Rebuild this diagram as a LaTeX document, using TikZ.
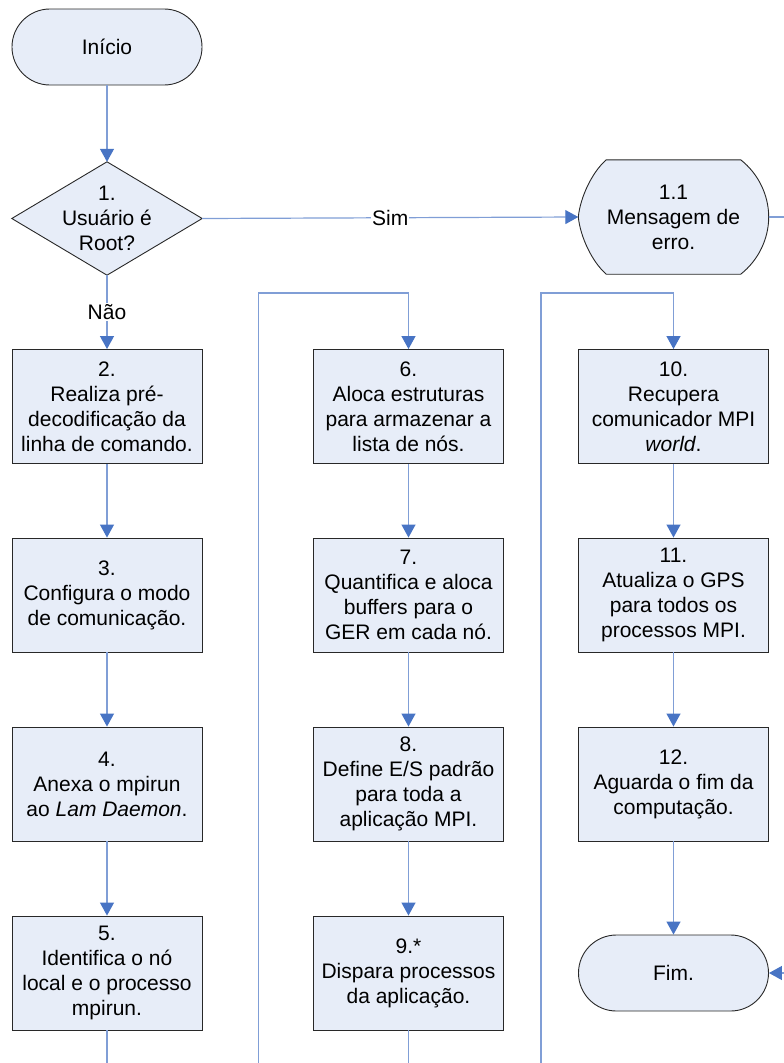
\documentclass[tikz,border=0pt]{standalone}
\usepackage{fontspec}
\setmainfont{Liberation Sans}
\usepackage{tikz}
\usetikzlibrary{arrows.meta,backgrounds}
\definecolor{boxfill}{RGB}{231,237,248}
\definecolor{linkblue}{RGB}{128,158,214}
\definecolor{tipblue}{RGB}{72,116,196}
\definecolor{edgegray}{RGB}{40,40,40}

\begin{document}
\begin{tikzpicture}[x=1pt,y=-1pt,
    every node/.style={font=\fontsize{21}{25}\selectfont, align=center, inner sep=0pt},
    textbox/.style={minimum width=190pt, minimum height=114pt},
    stepbox/.style={textbox, draw=edgegray, line width=0.9pt, fill=boxfill},
    endbox/.style={stepbox, minimum height=76pt, rounded corners=37.9pt},
    outline/.style={draw=edgegray, line width=0.9pt, fill=boxfill},
    link/.style={draw=linkblue, line width=1.2pt},
    flow/.style={link, -{Triangle[width=14pt,length=13pt,color=tipblue]}},
    lbl/.style={fill=white, inner sep=1pt}]
        % Fix the page size
        \useasboundingbox (0,0) rectangle (784,1063);
        \clip (0,0) rectangle (784,1063);

        % Draw the start and the root test
        \node[endbox] (start) at (107,47) {Início};
        \node[textbox, minimum height=113pt] (root) at (107,218.5) {1.\\Usuário é\\Root?};
        \node[textbox] (err) at (673.5,217) {1.1\\Mensagem de\\erro.};

        % Draw the first column
        \node[stepbox] (b2) at (107,406.5) {2.\\Realiza pré-\\decodificação da\\linha de comando.};
        \node[stepbox] (b3) at (107,595) {3.\\Configura o modo\\de comunicação.};
        \node[stepbox] (b4) at (107,784) {4.\\Anexa o mpirun\\ao \textit{Lam Daemon}.};
        \node[stepbox] (b5) at (107,973) {5.\\Identifica o nó\\local e o processo\\mpirun.};

        % Draw the second column
        \node[stepbox] (b6) at (408.5,406.5) {6.\\Aloca estruturas\\para armazenar a\\lista de nós.};
        \node[stepbox] (b7) at (408.5,595) {7.\\Quantifica e aloca\\buffers para o\\GER em cada nó.};
        \node[stepbox] (b8) at (408.5,784) {8.\\Define E/S padrão\\para toda a\\aplicação MPI.};
        \node[stepbox] (b9) at (408.5,973) {9.*\\Dispara processos\\da aplicação.};

        % Draw the third column
        \node[stepbox] (b10) at (673.5,406.5) {10.\\Recupera\\comunicador MPI\\\textit{world}.};
        \node[stepbox] (b11) at (673.5,595) {11.\\Atualiza o GPS\\para todos os\\processos MPI.};
        \node[stepbox] (b12) at (673.5,784) {12.\\Aguarda o fim da\\computação.};
        \node[endbox] (fim) at (673.5,973) {Fim.};

        % Draw the diamond and the display shape behind their texts
        \begin{scope}[on background layer]
            \draw[outline] (root.north) -- (root.east) -- (root.south) -- (root.west) -- cycle;
            \draw[outline] ([xshift=28pt]err.north west) -- ([xshift=-28pt]err.north east)
                .. controls ([xshift=-10.5pt,yshift=-13.7pt]err.north east) and ([yshift=22pt]err.east) .. (err.east)
                .. controls ([yshift=-22pt]err.east) and ([xshift=-10.5pt,yshift=13.7pt]err.south east) .. ([xshift=-28pt]err.south east)
                -- ([xshift=28pt]err.south west)
                .. controls ([xshift=14pt,yshift=12pt]err.south west) and ([xshift=2pt,yshift=-20pt]err.west) .. (err.west)
                .. controls ([xshift=2pt,yshift=20pt]err.west) and ([xshift=14pt,yshift=-12pt]err.north west) .. cycle;
        \end{scope}

        % Connectors
        \draw[flow] (start.south) -- (root.north);
        \draw[flow] (root.east) -- node[lbl] {Sim} (err.west);
        \draw[flow] (root.south) -- node[lbl] {Não} (b2.north);
        \draw[flow] (b2.south) -- (b3.north);
        \draw[flow] (b3.south) -- (b4.north);
        \draw[flow] (b4.south) -- (b5.north);
        \draw[flow] (b6.south) -- (b7.north);
        \draw[flow] (b7.south) -- (b8.north);
        \draw[flow] (b8.south) -- (b9.north);
        \draw[flow] (b10.south) -- (b11.north);
        \draw[flow] (b11.south) -- (b12.north);
        \draw[flow] (b12.south) -- (fim.north);

        % Lines running off the page
        \coordinate (out5) at (107,1070);
        \coordinate (out9) at (408.5,1070);
        \coordinate (in6) at (258.5,1070);
        \coordinate (turn6) at (258.5,293);
        \coordinate (in10) at (541,1070);
        \coordinate (turn10) at (541,293);
        \coordinate (outerr) at (790,217);
        \coordinate (infim) at (790,973);
        \draw[link] (b5.south) -- (out5);
        \draw[link] (b9.south) -- (out9);
        \draw[flow] (in6) -- (turn6) -| (b6.north);
        \draw[flow] (in10) -- (turn10) -| (b10.north);
        \draw[link] (err.east) -- (outerr);
        \draw[flow] (infim) -- (fim.east);
    \end{tikzpicture}
\end{document}
